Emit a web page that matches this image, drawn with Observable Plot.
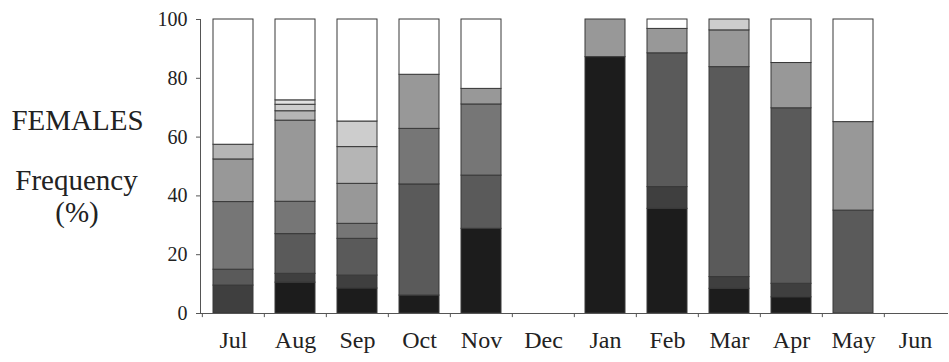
<!DOCTYPE html>
<html><head><meta charset="utf-8">
<script src="https://cdn.jsdelivr.net/npm/d3@7"></script>
<script src="https://cdn.jsdelivr.net/npm/@observablehq/plot@0.6"></script>
<style>
body{margin:0;background:#fff;}
#wrap{position:relative;width:949px;height:362px;font-family:"Liberation Serif","DejaVu Serif",serif;color:#222;}
#wrap svg{position:absolute;left:0;top:0;}
.lab{position:absolute;transform:translateX(-50%);white-space:nowrap;line-height:1;font-size:29px;font-family:"Liberation Serif","DejaVu Serif",serif;}
</style></head><body><div id="wrap"></div>
<script>
// Months (categories)
const months = ["Jul","Aug","Sep","Oct","Nov","Dec","Jan","Feb","Mar","Apr","May","Jun"];
// Stages, stacked bottom (darkest) to top (white)
const stages = ["S1","S2","S3","S4","S5","S6","S7","S8","S9"];
const s1 = [0, 10.5, 8.5, 6.1, 28.8, 0, 87.2, 35.6, 8.4, 5.5, 0, 0];
const s2 = [9.5, 3.0, 4.4, 0, 0, 0, 0, 7.4, 4.0, 4.6, 0, 0];
const s3 = [5.4, 13.5, 12.5, 37.8, 18.1, 0, 0, 45.5, 71.4, 59.7, 35.0, 0];
const s4 = [23.0, 11.0, 5.1, 18.9, 24.2, 0, 0, 0, 0, 0, 0, 0];
const s5 = [14.5, 27.6, 13.6, 18.4, 5.3, 0, 12.8, 8.3, 12.5, 15.4, 30.1, 0];
const s6 = [5.0, 3.2, 12.5, 0, 0, 0, 0, 0, 0, 0, 0, 0];
const s7 = [0, 2.2, 8.7, 0, 0, 0, 0, 0, 3.7, 0, 0, 0];
const s8 = [0, 1.5, 0, 0, 0, 0, 0, 0, 0, 0, 0, 0];
const s9 = [42.6, 27.5, 34.7, 18.8, 23.6, 0, 0, 3.2, 0, 14.8, 34.9, 0];
const yTicks = [0, 20, 40, 60, 80, 100];

const stageFills = ["#1c1c1c","#3f3f3f","#5a5a5a","#767676","#989898","#b5b5b5","#cdcdcd","#e1e1e1","#ffffff"];

const series = [s1, s2, s3, s4, s5, s6, s7, s8, s9];
const table = [];
series.forEach((vals, i) => vals.forEach((v, j) => {
  if (v > 0) table.push({month: months[j], stage: stages[i], value: v});
}));

const W = 949, H = 362;
const chart = Plot.plot({
  width: W, height: H,
  marginLeft: 200, marginRight: 1, marginTop: 19, marginBottom: 49,
  style: {fontFamily: '"Liberation Serif","DejaVu Serif",serif', color: "#222", background: "transparent"},
  x: {domain: months, paddingInner: 0.36, paddingOuter: 0.18, label: null, axis: null},
  y: {domain: [0, 100], label: null, axis: null},
  color: {domain: stages, range: stageFills},
  marks: [
    Plot.barY(table, Plot.stackY({x: "month", y: "value", fill: "stage", stroke: "#383838", strokeWidth: 1})),
    Plot.ruleY([0], {stroke: "#555"}),
    Plot.frame({anchor: "left", stroke: "#555"}),
    Plot.ruleX(months, {x: d => d, y1: 0, y2: -1.4, dx: -31.17, stroke: "#555"}),
    Plot.axisY({ticks: yTicks, tickSize: 4, tickPadding: 9, fontSize: 20, tickFormat: d => d, label: null, stroke: "#555"}),
    Plot.axisX({tickSize: 0, tickPadding: 17, fontSize: 24, label: null})
  ]
});
const wrap = document.getElementById("wrap");
wrap.appendChild(chart);
const labels = [["FEMALES", 77.5, 130], ["Frequency", 76.5, 190], ["(%)", 77, 222]];
labels.forEach(([t, cx, base]) => {
  const s = document.createElement("span");
  s.className = "lab";
  s.textContent = t;
  s.style.left = cx + "px";
  s.style.top = (base - 24.3) + "px";
  wrap.appendChild(s);
});
</script></body></html>
